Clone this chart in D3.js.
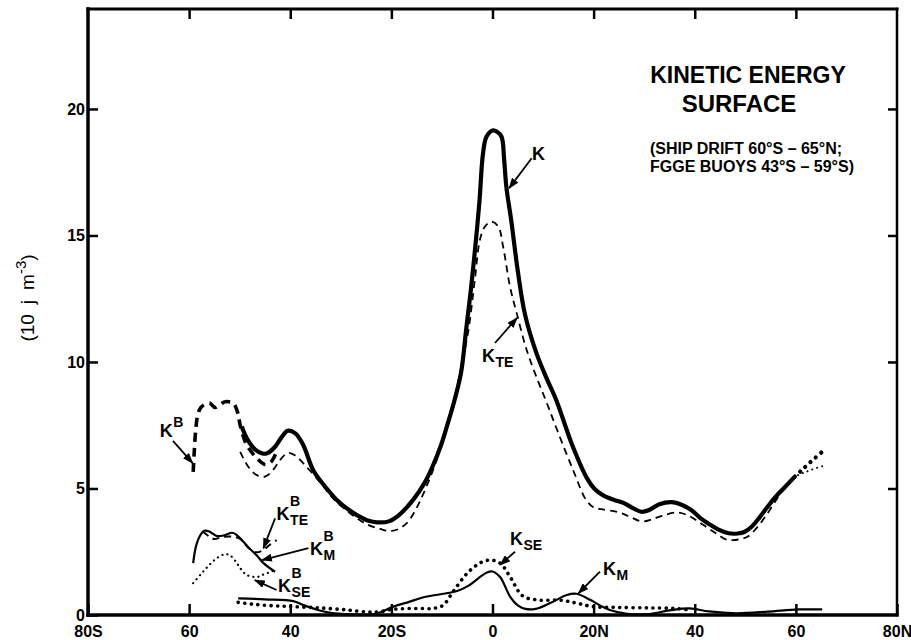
<!DOCTYPE html>
<html>
<head>
<meta charset="utf-8">
<script src="https://cdn.jsdelivr.net/npm/d3@7"></script>
<style>
  body { margin: 0; background: #fff; }
  svg { display: block; }
</style>
</head>
<body>
<svg id="chart" width="911" height="640"></svg>
<script>
// ---- axis ticks ----
const latTicks = [-80, -60, -40, -20, 0, 20, 40, 60, 80];
const latTickLabels = ["80S", "60", "40", "20S", "0", "20N", "40", "60", "80N"];
const energyTicks = [0, 5, 10, 15, 20];

// ---- ship drift, total kinetic energy K  [latitude, 10 J m^-3] ----
const kShip = [
  [-49.6, 7.45], [-48.5, 6.95], [-47, 6.55], [-45.5, 6.38], [-44.5, 6.4], [-43, 6.65],
  [-41.8, 7.0], [-40.5, 7.28], [-39, 7.18], [-37.5, 6.75], [-35.4, 5.7], [-33, 5.05],
  [-30.3, 4.45], [-28, 4.1], [-26.4, 3.9], [-24.5, 3.72], [-22.8, 3.66], [-20.5, 3.7],
  [-18.5, 3.95], [-15.7, 4.55], [-13.5, 5.2], [-11.9, 5.85], [-10.2, 6.7], [-8.8, 7.6],
  [-7.5, 8.5], [-6.2, 9.6], [-5.2, 11.3], [-4.2, 13.0], [-2.6, 16.3], [-1.9, 18.2],
  [-1.2, 18.9], [0, 19.15], [0.9, 19.1], [1.8, 18.9], [2.3, 18.0], [2.75, 16.9],
  [3.7, 15.6], [5.0, 13.6], [6.4, 11.9], [8.6, 10.4], [10.6, 9.4], [12.6, 8.5],
  [15.8, 6.7], [18.7, 5.4], [20.2, 4.98], [21.8, 4.74], [24, 4.55], [26, 4.42],
  [28, 4.2], [29.4, 4.08], [31, 4.15], [33, 4.38], [35.5, 4.46], [37.5, 4.35],
  [39.3, 4.15], [41, 3.85], [42.8, 3.6], [44.6, 3.38], [46.7, 3.23], [48.5, 3.22],
  [49.8, 3.28], [51.3, 3.5], [52.8, 3.85], [54.3, 4.25], [55.9, 4.65], [57.8, 5.05],
  [59.8, 5.47]
];
const kShipNorth = [[59.8, 5.47], [61.3, 5.75], [63.2, 6.1], [65.2, 6.45]];

// ---- ship drift, transient eddy energy K_TE ----
const kteShip = [
  [-49.9, 6.45], [-48.3, 5.86], [-46.6, 5.53], [-45, 5.47], [-43.4, 5.73], [-42, 6.13],
  [-40.5, 6.4], [-39, 6.3], [-37, 5.9], [-34.1, 5.25], [-31.5, 4.6], [-28.8, 4.12],
  [-26.5, 3.78], [-24.5, 3.55], [-22.2, 3.4], [-20.5, 3.32], [-18.8, 3.38], [-17, 3.62],
  [-15.5, 4.05], [-14, 4.65], [-12.5, 5.35], [-11, 6.15], [-9.5, 7.2], [-8, 8.2],
  [-6.8, 9.2], [-5.8, 10.2], [-4.8, 11.2], [-3.5, 13.24], [-2.5, 14.82], [-1.5, 15.35],
  [-0.2, 15.55], [1.15, 15.35], [2.1, 14.56], [3.46, 12.98], [4.8, 11.92], [6.76, 10.47],
  [8.9, 9.3], [10.8, 8.35], [12.8, 7.3], [15.9, 5.75], [18.5, 4.55], [20, 4.25],
  [21.5, 4.18], [24.6, 4.08], [27, 3.9], [29.5, 3.7], [31.5, 3.78], [33.5, 3.92],
  [36.5, 4.05], [38.5, 3.95], [40.5, 3.72], [42.5, 3.45], [44.4, 3.2], [46, 3.0],
  [47.5, 2.96], [49.5, 3.02], [50.5, 3.1], [52.5, 3.5], [54.4, 4.02], [56.3, 4.6],
  [58.2, 5.15], [59.5, 5.45]
];
const kteShipNorth = [[59.5, 5.45], [61.3, 5.6], [63.2, 5.75], [65.2, 5.88]];

// ---- ship drift, seasonal eddy K_SE and mean K_M ----
const kseShip = [
  [-50.3, 0.5], [-47, 0.42], [-43, 0.36], [-39.4, 0.33], [-34.1, 0.28], [-28.8, 0.2],
  [-24.8, 0.12], [-22.5, 0.12], [-20, 0.22], [-15, 0.26], [-11.8, 0.26], [-9.8, 0.38],
  [-7.8, 0.92], [-5, 1.65], [-2.5, 2.05], [-0.5, 2.17], [1.5, 2.05], [3.5, 1.5],
  [6, 0.75], [9.4, 0.59], [13.3, 0.59], [16.6, 0.47], [19.9, 0.33], [24.6, 0.3],
  [31, 0.28], [36, 0.26], [39, 0.2]
];
const kmShip = [
  [-50.3, 0.66], [-45, 0.62], [-39.4, 0.55], [-37.5, 0.4], [-34.5, 0.2], [-32, 0.09],
  [-28, 0.03], [-24, 0.02], [-22, 0.12], [-19.6, 0.33], [-16.5, 0.52], [-13.2, 0.72],
  [-10, 0.83], [-7.0, 0.95], [-4.8, 1.15], [-2.8, 1.45], [-1.1, 1.68], [0, 1.72],
  [1.5, 1.5], [3.5, 0.72], [5, 0.38], [6.5, 0.24], [8.5, 0.24], [11.4, 0.47],
  [14.7, 0.79], [16.6, 0.84], [19.3, 0.6], [21.5, 0.35], [23.2, 0.2], [26.6, 0.05],
  [31, 0.04], [35, 0.18], [39, 0.26], [42.8, 0.14], [48.2, 0.07], [54.4, 0.13],
  [60.5, 0.22], [65.2, 0.22]
];

// ---- FGGE buoys (superscript B) ----
const kBuoy = [
  [-59.2, 5.66], [-59.0, 6.4], [-58.7, 7.3], [-58.3, 7.9], [-57.7, 8.2], [-56.8, 8.33],
  [-55.9, 8.37], [-54.9, 8.2], [-54, 8.3], [-52.9, 8.43], [-51.3, 8.37], [-50.4, 8.0],
  [-49.9, 7.5], [-48.7, 6.75], [-47.5, 6.4], [-46.6, 6.19], [-45, 5.95], [-43.8, 6.05],
  [-42.7, 6.45]
];
const kmBuoy = [
  [-59.2, 2.05], [-58.6, 2.75], [-57.8, 3.15], [-57, 3.33], [-56, 3.3], [-54.5, 3.12],
  [-53, 3.15], [-51.5, 3.25], [-50.5, 3.15], [-49.3, 2.9], [-48.3, 2.68], [-46.6, 2.35],
  [-45.3, 2.05], [-43, 1.71]
];
const kteBuoy = [
  [-57.3, 3.3], [-56, 3.1], [-55, 3.0], [-53.5, 3.08], [-51.5, 3.1], [-49.8, 3.0],
  [-48.5, 2.7], [-46.8, 2.48], [-45.5, 2.55], [-44, 2.78], [-42.7, 2.96]
];
const kseBuoy = [
  [-59.2, 1.26], [-57.5, 1.65], [-56, 1.98], [-54.5, 2.25], [-53, 2.4], [-52, 2.37],
  [-50.8, 2.12], [-49.9, 1.85], [-48.6, 1.58], [-46.6, 1.5], [-45.3, 1.6], [-43.2, 1.75]
];

// ---- curve labels: text anchor and arrow (tail -> head), in data units ----
const curveLabels = [
  { base: "K", sup: "B", sub: "",   at: [-65.8, 7.04], from: [-63.2, 6.88], to: [-59.3, 6.0] },
  { base: "K", sup: "",  sub: "",   at: [7.8, 17.98],  from: [7.75, 18.05], to: [3.3, 16.87] },
  { base: "K", sup: "",  sub: "TE", at: [-2.1, 10.0],  from: [0.5, 10.75],  to: [4.85, 11.74] },
  { base: "K", sup: "B", sub: "TE", at: [-42.7, 3.75], from: [-43.0, 3.82], to: [-45.3, 2.64] },
  { base: "K", sup: "B", sub: "M",  at: [-36.1, 2.37], from: [-36.4, 2.64], to: [-45.6, 2.17] },
  { base: "K", sup: "B", sub: "SE", at: [-42.4, 0.91], from: [-42.7, 0.99], to: [-47.0, 1.38] },
  { base: "K", sup: "",  sub: "SE", at: [3.46, 2.77],  from: [4.45, 2.5],   to: [1.5, 1.98] },
  { base: "K", sup: "",  sub: "M",  at: [21.85, 1.58], from: [21.26, 1.71], to: [17.0, 0.86] }
];

// ---- layout ----
const svg = d3.select("#chart");
const x = d3.scaleLinear().domain([-80, 80]).range([88, 897]);
const y = d3.scaleLinear().domain([0, 23.95]).range([615, 9]);
const boldFont = "'Liberation Sans', Arial, sans-serif";

svg.append("defs").append("marker")
  .attr("id", "arrowhead")
  .attr("markerUnits", "userSpaceOnUse")
  .attr("markerWidth", 11).attr("markerHeight", 8)
  .attr("refX", 10).attr("refY", 4)
  .attr("orient", "auto")
  .append("path").attr("d", "M0,0 L11,4 L0,8 Z").attr("fill", "#000");

// frame
const frame = svg.append("g").attr("stroke", "#000").attr("stroke-linecap", "square");
frame.append("line").attr("x1", x(-80)).attr("x2", x(-80)).attr("y1", y(23.95)).attr("y2", y(0)).attr("stroke-width", 3.5);
frame.append("line").attr("x1", x(-80)).attr("x2", x(80)).attr("y1", y(0)).attr("y2", y(0)).attr("stroke-width", 3.5);
frame.append("line").attr("x1", x(-80)).attr("x2", x(80)).attr("y1", y(23.95)).attr("y2", y(23.95)).attr("stroke-width", 3);
frame.append("line").attr("x1", x(80)).attr("x2", x(80)).attr("y1", y(23.95)).attr("y2", y(0)).attr("stroke-width", 2.5);

function styleAxis(g, fontSize) {
  g.select(".domain").remove();
  g.selectAll(".tick line").attr("stroke", "#000").attr("stroke-width", 2.5);
  g.selectAll(".tick text")
    .attr("fill", "#000")
    .attr("font-family", boldFont)
    .attr("font-weight", "bold")
    .attr("font-size", fontSize);
}

svg.append("g")
  .attr("transform", `translate(0,${y(0)})`)
  .call(d3.axisBottom(x).tickValues(latTicks)
    .tickFormat((d, i) => latTickLabels[i])
    .tickSizeInner(-11).tickSizeOuter(0).tickPadding(11))
  .call(g => styleAxis(g, 16));

svg.append("g")
  .attr("transform", `translate(${x(-80)},0)`)
  .call(d3.axisLeft(y).tickValues(energyTicks)
    .tickSizeInner(-10).tickSizeOuter(0).tickPadding(3))
  .call(g => styleAxis(g, 16));

svg.append("g")
  .attr("transform", `translate(0,${y(23.95)})`)
  .call(d3.axisTop(x).tickValues(latTicks.slice(1, -1)).tickFormat("")
    .tickSizeInner(-10).tickSizeOuter(0))
  .call(g => styleAxis(g, 16));

svg.append("g")
  .attr("transform", `translate(${x(80)},0)`)
  .call(d3.axisRight(y).tickValues(energyTicks.slice(1)).tickFormat("")
    .tickSizeInner(-9).tickSizeOuter(0))
  .call(g => styleAxis(g, 16));

// y axis title
const yTitle = svg.append("text")
  .attr("transform", `translate(34,298) rotate(-90)`)
  .attr("text-anchor", "middle")
  .attr("font-family", boldFont)
  .attr("font-size", "19px")
  .attr("fill", "#000");
yTitle.append("tspan").text("(10");
yTitle.append("tspan").attr("dx", 10).text("j");
yTitle.append("tspan").attr("dx", 10).text("m");
yTitle.append("tspan").attr("dy", -8).attr("font-size", "15px").text("-3");
yTitle.append("tspan").attr("dy", 8).text(")");

// heading
const heading = svg.append("g")
  .attr("font-family", boldFont)
  .attr("font-weight", "bold")
  .attr("fill", "#000")
  .attr("text-anchor", "middle");
heading.append("text").attr("x", 748).attr("y", 83).attr("font-size", 23).text("KINETIC ENERGY");
heading.append("text").attr("x", 739).attr("y", 112).attr("font-size", 24).text("SURFACE");
heading.append("text").attr("x", 746).attr("y", 154).attr("font-size", 16).text("(SHIP DRIFT 60°S – 65°N;");
heading.append("text").attr("x", 752).attr("y", 172).attr("font-size", 16).text("FGGE BUOYS 43°S – 59°S)");

// curves
const line = d3.line()
  .x(d => x(d[0]))
  .y(d => y(d[1]))
  .curve(d3.curveCatmullRom.alpha(0.5));

function drawCurve(data, width, dash, cap) {
  svg.append("path")
    .datum(data)
    .attr("d", line)
    .attr("fill", "none")
    .attr("stroke", "#000")
    .attr("stroke-width", width)
    .attr("stroke-dasharray", dash || null)
    .attr("stroke-linecap", cap || "butt")
    .attr("stroke-linejoin", "round");
}

drawCurve(kteShip, 1.8, "7,5");
drawCurve(kteShipNorth, 2, "0.1,5", "round");
drawCurve(kShip, 4.2);
drawCurve(kShipNorth, 4.2, "0.1,7", "round");
drawCurve(kmShip, 2.2);
drawCurve(kseShip, 3.6, "0.1,6.5", "round");
drawCurve(kBuoy, 3.6, "9,6");
drawCurve(kmBuoy, 2.2);
drawCurve(kteBuoy, 2, "7,5");
drawCurve(kseBuoy, 2.2, "0.1,5", "round");

// labels with arrows
const labelG = svg.append("g")
  .attr("font-family", boldFont)
  .attr("font-weight", "bold")
  .attr("fill", "#000");

curveLabels.forEach(c => {
  labelG.append("line")
    .attr("x1", x(c.from[0])).attr("y1", y(c.from[1]))
    .attr("x2", x(c.to[0])).attr("y2", y(c.to[1]))
    .attr("stroke", "#000").attr("stroke-width", 1.8)
    .attr("marker-end", "url(#arrowhead)");
  const lx = x(c.at[0]), ly = y(c.at[1]);
  const base = labelG.append("text").attr("x", lx).attr("y", ly)
    .attr("font-size", 18).text(c.base);
  const w = base.node().getComputedTextLength();
  if (c.sup) {
    labelG.append("text").attr("x", lx + w + 0.5).attr("y", ly - (c.sub ? 14 : 10))
      .attr("font-size", 14).text(c.sup);
  }
  if (c.sub) {
    labelG.append("text").attr("x", lx + w + 0.5).attr("y", ly + 5)
      .attr("font-size", 14).text(c.sub);
  }
});
</script>
</body>
</html>
